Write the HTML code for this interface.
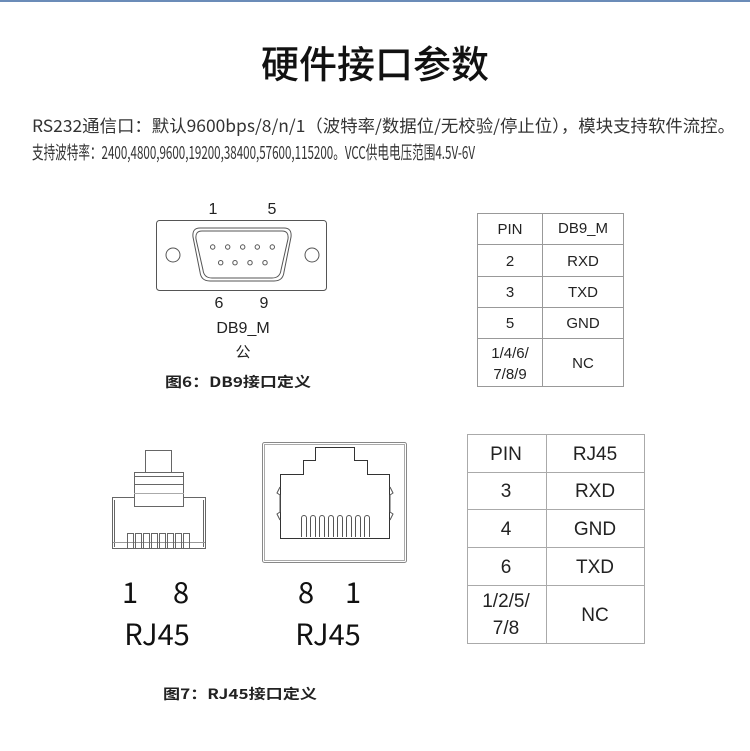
<!DOCTYPE html>
<html><head><meta charset="utf-8"><style>
html,body{margin:0;padding:0;background:#fff;width:750px;height:751px;overflow:hidden}
svg{display:block}
text{font-family:"Liberation Sans","Noto Sans CJK SC",sans-serif}
.cjk{font-family:"Noto Sans CJK SC","Liberation Sans",sans-serif}
</style></head><body>
<svg width="750" height="751" viewBox="0 0 750 751" xmlns="http://www.w3.org/2000/svg">
<rect x="0" y="0" width="750" height="2" fill="#6b8cb8"/>
<text class="cjk" x="375" y="78" font-size="38" font-weight="500" text-anchor="middle" fill="#111">硬件接口参数</text>
<text class="cjk" x="32" y="132" font-size="17" fill="#333" textLength="703" lengthAdjust="spacingAndGlyphs">RS232通信口：默认9600bps/8/n/1（波特率/数据位/无校验/停止位），模块支持软件流控。</text>
<text class="cjk" x="32" y="159" font-size="18" fill="#333" textLength="443" lengthAdjust="spacingAndGlyphs">支持波特率：2400,4800,9600,19200,38400,57600,115200。VCC供电电压范围4.5V-6V</text>

<!-- DB9 -->
<g fill="none" stroke="#555" stroke-width="1">
<rect x="156.5" y="220.5" width="170" height="70" rx="3"/>
<circle cx="173" cy="255" r="7"/>
<circle cx="312" cy="255" r="7"/>
<path d="M200 228 H284 Q292 228 291 237 L284 272 Q283 281 274 281 H210 Q201 281 200 272 L193 237 Q192 228 200 228 Z"/>
<path d="M202 231 H282 Q289 231 288 239 L281 270 Q280 278 272 278 H212 Q204 278 203 270 L196 239 Q195 231 202 231 Z"/>
<circle cx="212.7" cy="247" r="2.2"/><circle cx="227.7" cy="247" r="2.2"/><circle cx="242.7" cy="247" r="2.2"/><circle cx="257.3" cy="247" r="2.2"/><circle cx="272.3" cy="247" r="2.2"/>
<circle cx="220.7" cy="262.7" r="2.2"/><circle cx="235" cy="262.7" r="2.2"/><circle cx="250" cy="262.7" r="2.2"/><circle cx="265" cy="262.7" r="2.2"/>
</g>
<g font-size="16" fill="#222" text-anchor="middle">
<text x="213" y="214">1</text><text x="272" y="214">5</text>
<text x="219" y="308">6</text><text x="264" y="308">9</text>
<text x="243" y="333">DB9_M</text>
</g>
<text class="cjk" x="243" y="357" font-size="15" fill="#222" text-anchor="middle">公</text>
<text class="cjk" x="165" y="387" font-size="14" font-weight="bold" fill="#222" textLength="146" lengthAdjust="spacingAndGlyphs">图6：DB9接口定义</text>

<!-- Table 1 -->
<g stroke="#999" stroke-width="1" fill="none">
<rect x="477.5" y="213.5" width="146" height="173"/>
<line x1="542.5" y1="213" x2="542.5" y2="387"/>
<line x1="477" y1="244.5" x2="624" y2="244.5"/>
<line x1="477" y1="276.5" x2="624" y2="276.5"/>
<line x1="477" y1="307.5" x2="624" y2="307.5"/>
<line x1="477" y1="338.5" x2="624" y2="338.5"/>
</g>
<g font-size="15" fill="#222" text-anchor="middle">
<text x="510" y="234">PIN</text><text x="583" y="233">DB9_M</text>
<text x="510" y="266">2</text><text x="583" y="266">RXD</text>
<text x="510" y="297">3</text><text x="583" y="297">TXD</text>
<text x="510" y="328">5</text><text x="583" y="328">GND</text>
<text x="510" y="358">1/4/6/</text><text x="510" y="379">7/8/9</text><text x="583" y="368">NC</text>
</g>

<!-- RJ45 plug -->
<g fill="none" stroke="#666" stroke-width="1">
<rect x="145.5" y="450.5" width="26" height="22"/>
<rect x="134.5" y="472.5" width="49" height="34"/>
<line x1="134" y1="476.5" x2="184" y2="476.5"/>
<line x1="134" y1="484.5" x2="184" y2="484.5"/>
<line x1="134" y1="493.5" x2="184" y2="493.5" stroke="#aaa"/>
<path d="M134.5 497.5 H112.5 V548.5 H205.5 V497.5 H183.5"/>
<line x1="114.5" y1="500" x2="114.5" y2="547"/>
<line x1="203.5" y1="500" x2="203.5" y2="547"/>
<line x1="113" y1="542.5" x2="205" y2="542.5" stroke="#999"/>
<g>
<rect x="127.5" y="533.5" width="6" height="15"/><rect x="135.5" y="533.5" width="6" height="15"/><rect x="143.5" y="533.5" width="6" height="15"/><rect x="151.5" y="533.5" width="6" height="15"/><rect x="159.5" y="533.5" width="6" height="15"/><rect x="167.5" y="533.5" width="6" height="15"/><rect x="175.5" y="533.5" width="6" height="15"/><rect x="183.5" y="533.5" width="6" height="15"/>
</g>
</g>

<!-- RJ45 jack -->
<g fill="none" stroke="#555" stroke-width="1">
<rect x="262.5" y="442.5" width="144" height="120" rx="2" stroke="#888"/>
<rect x="264.5" y="444.5" width="140" height="116" stroke="#aaa"/>
<path d="M280.5 538.5 V474.5 H303.5 V460.5 H315.5 V447.5 H354.5 V460.5 H367.5 V474.5 H389.5 V538.5 Z" stroke="#333"/>
<path d="M280 487 L277 493 L280 495 V512 L277 514 L280 520" />
<path d="M390 487 L393 493 L390 495 V512 L393 514 L390 520" />
<g>
<path d="M301.5 537 V518 a2.5 2.5 0 0 1 5 0 V537"/>
<path d="M310.5 537 V518 a2.5 2.5 0 0 1 5 0 V537"/>
<path d="M319.5 537 V518 a2.5 2.5 0 0 1 5 0 V537"/>
<path d="M328.5 537 V518 a2.5 2.5 0 0 1 5 0 V537"/>
<path d="M337.5 537 V518 a2.5 2.5 0 0 1 5 0 V537"/>
<path d="M346.5 537 V518 a2.5 2.5 0 0 1 5 0 V537"/>
<path d="M355.5 537 V518 a2.5 2.5 0 0 1 5 0 V537"/>
<path d="M364.5 537 V518 a2.5 2.5 0 0 1 5 0 V537"/>
</g>
</g>
<g class="cjk" font-size="29" fill="#111" text-anchor="middle">
<text class="cjk" x="130" y="603">1</text><text class="cjk" x="181" y="603">8</text>
<text class="cjk" x="157" y="645">RJ45</text>
<text class="cjk" x="306" y="603">8</text><text class="cjk" x="353" y="603">1</text>
<text class="cjk" x="328" y="645">RJ45</text>
</g>
<text class="cjk" x="163" y="699" font-size="14" font-weight="bold" fill="#222" textLength="154" lengthAdjust="spacingAndGlyphs">图7：RJ45接口定义</text>

<!-- Table 2 -->
<g stroke="#aaa" stroke-width="1" fill="none">
<rect x="467.5" y="434.5" width="177" height="209"/>
<line x1="546.5" y1="434" x2="546.5" y2="644"/>
<line x1="467" y1="472.5" x2="645" y2="472.5"/>
<line x1="467" y1="509.5" x2="645" y2="509.5"/>
<line x1="467" y1="547.5" x2="645" y2="547.5"/>
<line x1="467" y1="585.5" x2="645" y2="585.5"/>
</g>
<g font-size="19" fill="#222" text-anchor="middle">
<text x="506" y="460">PIN</text><text x="595" y="460">RJ45</text>
<text x="506" y="497">3</text><text x="595" y="497">RXD</text>
<text x="506" y="535">4</text><text x="595" y="535">GND</text>
<text x="506" y="573">6</text><text x="595" y="573">TXD</text>
<text x="506" y="607">1/2/5/</text><text x="506" y="634">7/8</text><text x="595" y="621">NC</text>
</g>
</svg>
</body></html>
